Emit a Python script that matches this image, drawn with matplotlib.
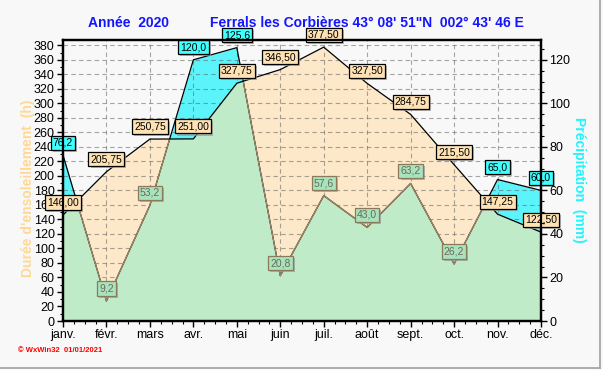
"""Ensoleillement et précipitations 2020 - Ferrals les Corbières."""
import matplotlib
matplotlib.use('Agg')
import matplotlib.pyplot as plt
import matplotlib.patheffects as pe
from matplotlib.lines import Line2D
from matplotlib.ticker import MultipleLocator
import numpy as np

plt.rcParams['font.family'] = ['Liberation Sans', 'DejaVu Sans']

months = ['janv.', 'févr.', 'mars', 'avr.', 'mai', 'juin',
          'juil.', 'août', 'sept.', 'oct.', 'nov.', 'déc.']
sunshine_h = [146.00, 205.75, 250.75, 251.00, 327.75, 346.50,
              377.50, 327.50, 284.75, 215.50, 147.25, 122.50]
precip_mm = [76.2, 9.2, 53.2, 120.0, 125.6, 20.8,
             57.6, 43.0, 63.2, 26.2, 65.0, 60.0]

BG = '#f8f8f8'
PEACH = '#fde9c9'
GREEN = '#bfebc9'
CYAN = '#5cf4fb'
TAN = '#a08a68'
H_RATIO = 3.0  # 1 mm on the right axis = 3 h on the left axis
YMAX = 388

x = np.arange(len(months))
sun = np.array(sunshine_h)
rain = np.array(precip_mm) * H_RATIO

fig = plt.figure(figsize=(6.03, 3.70), dpi=100, facecolor=BG)
ax = fig.add_axes([63 / 603, 1 - 321 / 370, 478 / 603, 281.5 / 370])
ax.set_facecolor(BG)

# precipitation (cyan), sunshine (peach), overlap (green)
ax.fill_between(x, 0, rain, color=CYAN, lw=0, zorder=1)
sun_poly = ax.fill_between(x, 0, sun, color=PEACH, lw=0, zorder=2)
clip_path = sun_poly.get_paths()[0]
green = ax.fill_between(x, 0, rain, color=GREEN, lw=0, zorder=3)
green.set_clip_path(clip_path, ax.transData)

ax.plot(x, rain, color='black', lw=0.9, zorder=4)
tan_line, = ax.plot(x, rain, color=TAN, lw=0.9, zorder=5)
tan_line.set_clip_path(clip_path, ax.transData)
ax.plot(x, sun, color='black', lw=0.9, zorder=6)

ax.set_xlim(0, len(months) - 1)
ax.set_ylim(0, YMAX)
ax.set_xticks(x)
ax.set_xticklabels(months)
ax.xaxis.set_minor_locator(MultipleLocator(0.25))
ax.set_yticks(np.arange(0, 381, 20))
ax.yaxis.set_minor_locator(MultipleLocator(10))
ax.tick_params(axis='both', which='major', direction='out', length=4,
               width=1, labelsize=9, colors='black', pad=2)
ax.tick_params(axis='both', which='minor', direction='out', length=2, width=0.8)
ax.grid(True, which='major', color='#606060', alpha=0.55,
        linestyle=(0, (4, 3)), linewidth=0.8, zorder=7)
ax.set_axisbelow(False)
for sp in ax.spines.values():
    sp.set_linewidth(1.6)
    sp.set_zorder(10)

ax2 = ax.twinx()
ax2.set_ylim(0, YMAX / H_RATIO)
ax2.set_yticks(np.arange(0, 121, 20))
ax2.yaxis.set_minor_locator(MultipleLocator(5))
ax2.tick_params(axis='y', which='major', direction='out', length=4,
                width=1, labelsize=9, pad=2)
ax2.tick_params(axis='y', which='minor', direction='out', length=2, width=0.8)
for sp in ax2.spines.values():
    sp.set_linewidth(1.6)

shadow = [pe.withSimplePatchShadow(offset=(1.5, -1.5), shadow_rgbFace='#999999', alpha=0.7)]


def label(xv, yv, txt, face, edge, tcol):
    t = ax.annotate(txt, (xv, yv), xytext=(0, 9), textcoords='offset points',
                    ha='center', va='center', fontsize=7.5, color=tcol,
                    annotation_clip=False, zorder=12,
                    bbox=dict(boxstyle='square,pad=0.2', fc=face, ec=edge, lw=0.9))
    t.set_clip_on(False)
    t.get_bbox_patch().set_path_effects(shadow)


for i in range(len(months)):
    label(x[i], sun[i], f'{sunshine_h[i]:.2f}'.replace('.', ','),
          '#ffe2b4', 'black', 'black')
    ptxt = f'{precip_mm[i]:.1f}'.replace('.', ',')
    if rain[i] > sun[i]:
        label(x[i], rain[i], ptxt, '#40ffff', 'black', 'black')
    else:
        label(x[i], rain[i], ptxt, '#a9e3bd', '#8a7a5a', '#6a6a58')

# titles and axis names
fig.text(128 / 603, 1 - 23 / 370, 'Année  2020', color='#1414ff', fontsize=10,
         fontweight='bold', ha='center', va='center')
fig.text(367 / 603, 1 - 23 / 370, 'Ferrals les Corbières 43° 08\' 51"N  002° 43\' 46 E',
         color='#1414ff', fontsize=10, fontweight='bold', ha='center', va='center')
fig.text(28 / 603, 1 - 188 / 370, "Durée d'ensoleillement  (h)", color='#ffd895',
         fontsize=10, fontweight='bold', rotation=90, ha='center', va='center')
fig.text(579 / 603, 1 - 180 / 370, 'Précipitation  (mm)', color='#22f4ff',
         fontsize=10, fontweight='bold', rotation=270, ha='center', va='center')
fig.text(18 / 603, 1 - 351 / 370, '© WxWin32  01/01/2021', color='red',
         fontsize=5.5, fontweight='bold', ha='left', va='center')

# frame lines at right and bottom of the picture
fig.add_artist(Line2D([600 / 603, 600 / 603], [2 / 370, 1], color='#a0a0a0', lw=1.2,
                      transform=fig.transFigure))
fig.add_artist(Line2D([0, 600 / 603], [2 / 370, 2 / 370], color='#a0a0a0', lw=1.2,
                      transform=fig.transFigure))

fig.savefig('out.png', dpi=100, facecolor=BG)
plt.close(fig)
